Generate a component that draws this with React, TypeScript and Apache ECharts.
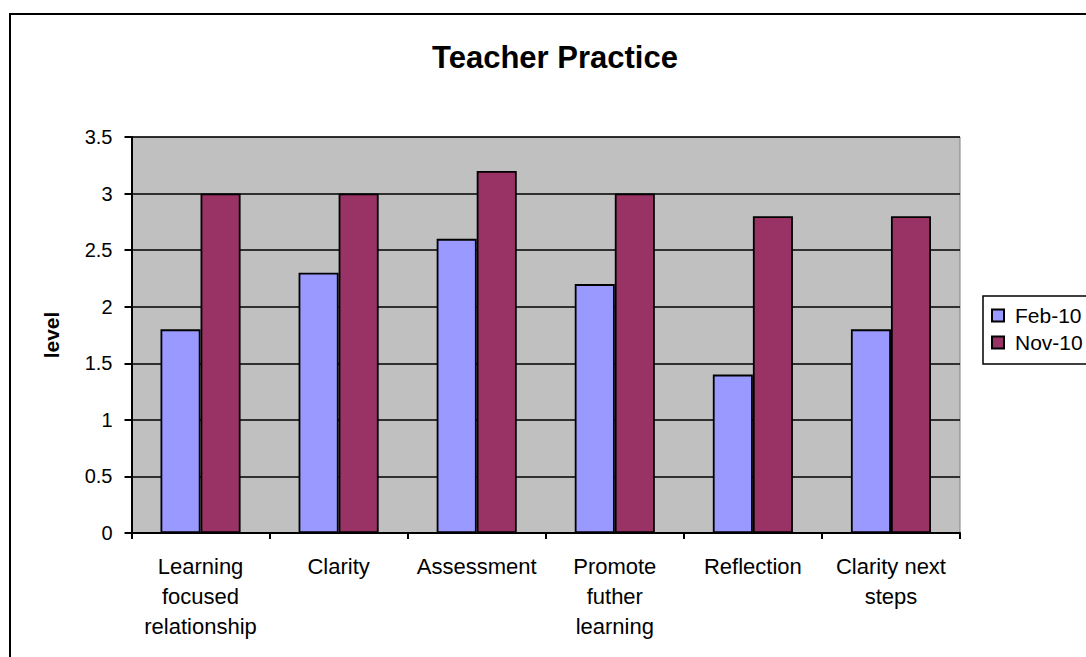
import React, { useEffect, useRef } from "react";
import * as echarts from "echarts";

const categories = [
  "Learning\nfocused\nrelationship",
  "Clarity",
  "Assessment",
  "Promote\nfuther\nlearning",
  "Reflection",
  "Clarity next\nsteps",
];
const feb10 = [1.8, 2.3, 2.6, 2.2, 1.4, 1.8];
const nov10 = [3.0, 3.0, 3.2, 3.0, 2.8, 2.8];
const seriesNames = ["Feb-10", "Nov-10"];
const titleText = "Teacher Practice";
const yAxisName = "level";

const FONT = "'Liberation Sans', Arial, sans-serif";

export default function App() {
  const ref = useRef<HTMLDivElement>(null);
  useEffect(() => {
    if (!ref.current) return;
    const chart = echarts.init(ref.current, undefined, { renderer: "svg" });
    chart.setOption({
      animation: false,
      backgroundColor: "#ffffff",
      graphic: [
        {
          type: "rect",
          shape: { x: 10, y: 14, width: 1200, height: 800 },
          style: { fill: "none", stroke: "#000", lineWidth: 2 },
          z: 0,
        },
        {
          type: "text",
          style: {
            text: titleText,
            font: `bold 31px ${FONT}`,
            fill: "#000",
            x: 555,
            y: 57,
            align: "center",
            verticalAlign: "middle",
          },
        },
      ],
      grid: {
        left: 131.5,
        top: 137,
        right: 126,
        bottom: 124,
        show: true,
        backgroundColor: "#C0C0C0",
        borderColor: "#808080",
        borderWidth: 1,
      },
      legend: {
        orient: "vertical",
        left: 983,
        top: 296,
        padding: [9, 40, 11, 8],
        itemGap: 6,
        itemWidth: 12,
        itemHeight: 12,
        borderColor: "#000",
        borderWidth: 1.5,
        backgroundColor: "#fff",
        icon: "rect",
        textStyle: {
          fontFamily: FONT,
          fontSize: 21,
          color: "#000",
          padding: [0, 0, 0, 6],
        },
        data: seriesNames,
      },
      xAxis: {
        type: "category",
        data: categories,
        axisLine: { show: true, lineStyle: { color: "#000", width: 2 } },
        axisTick: { show: true, length: 6, lineStyle: { color: "#000", width: 2 } },
        axisLabel: {
          fontFamily: FONT,
          fontSize: 22,
          lineHeight: 30,
          color: "#000",
          margin: 18,
          interval: 0,
        },
        splitLine: { show: false },
      },
      yAxis: {
        type: "value",
        min: 0,
        max: 3.5,
        interval: 0.5,
        name: yAxisName,
        nameLocation: "middle",
        nameGap: 70,
        nameRotate: 90,
        nameTextStyle: {
          fontFamily: FONT,
          fontSize: 21,
          fontWeight: "bold",
          color: "#000",
        },
        axisLine: { show: true, lineStyle: { color: "#000", width: 2 } },
        axisTick: { show: true, length: 7, lineStyle: { color: "#000", width: 2 } },
        axisLabel: {
          fontFamily: FONT,
          fontSize: 20,
          color: "#000",
          margin: 19,
        },
        splitLine: { show: true, lineStyle: { color: "#000", width: 1.5 } },
      },
      series: [
        {
          name: seriesNames[0],
          type: "bar",
          data: feb10,
          barGap: "0%",
          barCategoryGap: "42%",
          itemStyle: { color: "#9999FF", borderColor: "#000", borderWidth: 1.8 },
        },
        {
          name: seriesNames[1],
          type: "bar",
          data: nov10,
          barGap: "0%",
          barCategoryGap: "42%",
          itemStyle: { color: "#993366", borderColor: "#000", borderWidth: 1.8 },
        },
      ],
    });
    return () => chart.dispose();
  }, []);
  return (
    <div
      ref={ref}
      style={{ position: "fixed", left: 0, top: 0, width: 1086, height: 657 }}
    />
  );
}
